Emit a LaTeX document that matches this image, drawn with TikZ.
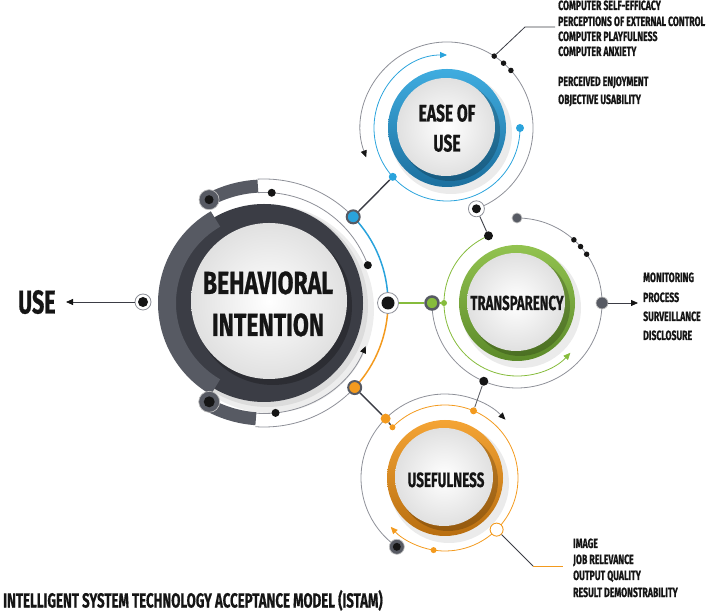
\documentclass[tikz,border=0pt]{standalone}
\usepackage{fontspec}
\newfontfamily\cond[FakeStretch=0.65,BoldFeatures={FakeBold=0.6}]{Fira Sans}
\newfontfamily\condw[FakeStretch=0.72,BoldFeatures={FakeBold=0.6}]{Fira Sans}
\usetikzlibrary{arrows.meta,calc}
\definecolor{ink}{HTML}{151515}
\definecolor{dkg}{HTML}{3B3D45}
\definecolor{midg}{HTML}{575A63}
\definecolor{lng}{HTML}{8E9098}
\definecolor{bl}{HTML}{2AA3DC}
\definecolor{bldk}{HTML}{1C6F9E}
\definecolor{gr}{HTML}{86BC3C}
\definecolor{grdk}{HTML}{5C8A2A}
\definecolor{og}{HTML}{F39A1E}
\definecolor{ogdk}{HTML}{B86E10}
\begin{document}
\begin{tikzpicture}[x=1pt,y=1pt,
  thingray/.style={draw=lng, line width=0.8pt},
  spot/.style={circle, fill=#1, inner sep=0pt, draw=none},
  tip/.style={-{Triangle[length=7pt,width=6pt]}},
  tipk/.style={-{Triangle[length=7pt,width=6pt,color=ink]}},
  lbl/.style={font=\cond\bfseries\fontsize{13.4}{15}\selectfont, anchor=base west, inner sep=0pt, text=ink},
  big/.style={font=\cond\bfseries\fontsize{#1}{#1}\selectfont, anchor=base, inner sep=0pt, text=ink},
  bigw/.style={font=\condw\bfseries\fontsize{#1}{#1}\selectfont, anchor=base, inner sep=0pt, text=ink},
]
\useasboundingbox (0,0) rectangle (708,612);

% ---------------- main circle ----------------
\coordinate (Mc) at (264,309);
\fill[black, opacity=0.07] (270,303) circle (104);
\fill[black, opacity=0.07] (267,306) circle (101);
\fill[dkg] (Mc) circle (99);
\draw[midg, line width=18pt] (Mc) ++(120:97) arc[start angle=120, end angle=240, radius=97];
\fill[black, opacity=0.25] (273,306) circle (79);
\shade[inner color=white, outer color=black!12] (269,311) circle (78);

\draw[thingray] (Mc) ++(93:124) arc[start angle=93, end angle=44, radius=124];
\draw[thingray] (Mc) ++(266:124) arc[start angle=266, end angle=317, radius=124];
\draw[thingray] (Mc) ++(93:110.5) arc[start angle=93, end angle=20, radius=110.5];
\draw[thingray, tipk] (Mc) ++(266:110.5) arc[start angle=266, end angle=337, radius=110.5];
\draw[midg, line width=13pt] (Mc) ++(118:117) arc[start angle=118, end angle=93, radius=117];
\draw[midg, line width=13pt] (Mc) ++(241:116) arc[start angle=241, end angle=266, radius=116];
\draw[bl, line width=1.5pt] (Mc) ++(44:124) arc[start angle=44, end angle=0, radius=124];
\draw[og, line width=1.5pt] (Mc) ++(-43:124) arc[start angle=-43, end angle=0, radius=124];

\node[spot=midg, minimum size=20pt, draw=black!25, line width=0.7pt] (Mtop) at ($(Mc)+(118:117)$) {};
\node[spot=ink, minimum size=9pt] (Mtopc) at (Mtop) {};
\node[spot=midg, minimum size=21pt, draw=black!25, line width=0.7pt] (Mbot) at ($(Mc)+(241:113)$) {};
\node[spot=ink, minimum size=11pt] (Mbotc) at (Mbot) {};
\node[spot=ink, minimum size=8pt] (Md1) at ($(Mc)+(86:110.5)$) {};
\node[spot=ink, minimum size=8pt] (Md2) at ($(Mc)+(20:110.5)$) {};
\node[spot=ink, minimum size=8pt] (Md3) at ($(Mc)+(276:110.5)$) {};
\node[circle, draw=lng, fill=white, line width=0.8pt, minimum size=21pt, inner sep=0pt] (Mr) at ($(Mc)+(0:124)$) {};
\node[spot=ink, minimum size=13pt] (Mrc) at (Mr) {};
\node[spot=bl, draw=midg, line width=2pt, minimum size=13pt] (Mb) at ($(Mc)+(44:124)$) {};
\node[spot=og, draw=midg, line width=2pt, minimum size=13pt] (Mo) at ($(Mc)+(-43:124)$) {};

\node[bigw=32] (Mt1) at (268,318) {BEHAVIORAL};
\node[bigw=32] (Mt2) at (268,276) {INTENTION};

% ---------------- USE ----------------
\node[circle, draw=lng, fill=white, line width=0.8pt, minimum size=16pt, inner sep=0pt] (Sr) at (143,310) {};
\node[spot=ink, minimum size=10pt] (Sc) at (Sr) {};
\coordinate (Stip) at (66,310);
\draw[dkg, line width=0.8pt, tipk] (Sr) -- (Stip);
\node[big=33, anchor=base west] (Suse) at (18,298.5) {USE};

% ---------------- EASE OF USE ----------------
\coordinate (Ec) at (447,484);
\draw[thingray, tipk] (Ec) ++(-70:86) arc[start angle=-70, end angle=200, radius=86];
\draw[bl, line width=0.8pt, tip] (Ec) ++(0:73) arc[start angle=0, end angle=-270, radius=73];
\fill[black, opacity=0.08] (451,479) circle (61);
\shade[shading angle=45, top color=bl!90!white, middle color=bl, bottom color=bldk] (Ec) circle (59);
\fill[black, opacity=0.2] (450,481) circle (50);
\shade[inner color=white, outer color=black!12] (446,485) circle (49);
\node[big=24] (Et1) at (447,490.5) {EASE OF};
\node[big=24] (Et2) at (447,460.5) {USE};
\node[spot=ink, minimum size=5.5pt] (Ed1) at ($(Ec)+(56.7:86)$) {};
\node[spot=ink, minimum size=5.5pt] (Ed2) at ($(Ec)+(48.9:86)$) {};
\node[spot=ink, minimum size=5.5pt] (Ed3) at ($(Ec)+(42:86)$) {};
\node[spot=bl, minimum size=8pt] (Eb0) at ($(Ec)+(0:73)$) {};
\node[spot=bl, minimum size=8pt] (Eb1) at ($(Ec)+(222:73)$) {};
\node[circle, draw=lng, fill=white, line width=0.8pt, minimum size=16pt, inner sep=0pt] (Er) at ($(Ec)+(-70:86)$) {};
\node[spot=ink, minimum size=9pt] (Erc) at (Er) {};
\coordinate (Ek) at (525,585);
\coordinate (Ee) at (555,585);
\draw[dkg, line width=0.8pt] (Ed1) -- (Ek) -- (Ee);
\draw[dkg, line width=1.4pt] (Mb) -- (Eb1);
\node[lbl] (El1) at (558,602) {COMPUTER SELF-EFFICACY};
\node[lbl] (El2) at (558,586) {PERCEPTIONS OF EXTERNAL CONTROL};
\node[lbl] (El3) at (558,571) {COMPUTER PLAYFULNESS};
\node[lbl] (El4) at (558,556) {COMPUTER ANXIETY};
\node[lbl] (El5) at (558,526) {PERCEIVED ENJOYMENT};
\node[lbl] (El6) at (558,508) {OBJECTIVE USABILITY};

% ---------------- TRANSPARENCY ----------------
\coordinate (Tc) at (517,309);
\draw[thingray] (Tc) ++(180:85) arc[start angle=180, end angle=450, radius=85];
\draw[gr, line width=0.8pt, tip] (Tc) ++(113:73) arc[start angle=113, end angle=317, radius=73];
\fill[black, opacity=0.08] (521,304) circle (60);
\shade[shading angle=45, top color=gr!90!white, middle color=gr, bottom color=grdk] (Tc) circle (58);
\fill[black, opacity=0.2] (520,306) circle (50);
\shade[inner color=white, outer color=black!12] (516,310) circle (49);
\node[big=20.3] (Tt1) at (517,302) {TRANSPARENCY};
\node[spot=gr, draw=midg, line width=2.5pt, minimum size=13pt] (Tl) at ($(Tc)+(180:85)$) {};
\node[spot=ink, minimum size=9pt] (Tb) at ($(Tc)+(247:85)$) {};
\node[spot=midg, draw=black!25, line width=0.7pt, minimum size=12pt] (Tr) at ($(Tc)+(0:85)$) {};
\node[spot=midg, draw=black!25, line width=0.7pt, minimum size=10pt] (Tt) at ($(Tc)+(90:85)$) {};
\node[spot=ink, minimum size=5.5pt] (Td1) at ($(Tc)+(48:85)$) {};
\node[spot=ink, minimum size=5.5pt] (Td2) at ($(Tc)+(41.6:85)$) {};
\node[spot=ink, minimum size=5.5pt] (Td3) at ($(Tc)+(35:85)$) {};
\node[spot=gr, minimum size=6pt] (Tg) at ($(Tc)+(180:73)$) {};
\node[spot=ink, minimum size=9pt] (Tk) at ($(Tc)+(113:73)$) {};
\draw[gr, line width=1.5pt] (Mr) -- (Tl);
\draw[gr, line width=1.5pt] (Tl) -- (Tg);
\draw[dkg, line width=0.9pt] (Er) -- (Tk);
\coordinate (Ttip) at (638,309);
\draw[dkg, line width=0.8pt, tipk] (Tr) -- (Ttip);
\node[lbl] (Tl1) at (643,330) {MONITORING};
\node[lbl] (Tl2) at (643,310) {PROCESS};
\node[lbl] (Tl3) at (643,291) {SURVEILLANCE};
\node[lbl] (Tl4) at (643,272) {DISCLOSURE};

% ---------------- USEFULNESS ----------------
\coordinate (Uc) at (445,134);
\draw[thingray, tipk] (Uc) ++(235:84) arc[start angle=235, end angle=44, radius=84];
\draw[og, line width=0.8pt, tip] (Uc) ++(136:73) arc[start angle=136, end angle=-138, radius=73];
\fill[black, opacity=0.08] (449,129) circle (60);
\shade[shading angle=45, top color=og!90!white, middle color=og, bottom color=ogdk] (Uc) circle (58);
\fill[black, opacity=0.2] (448,131) circle (50);
\shade[inner color=white, outer color=black!12] (444,135) circle (49);
\node[big=20.7] (Ut1) at (446,125) {USEFULNESS};
\node[spot=midg, draw=black!25, line width=0.7pt, minimum size=15pt] (Ud) at ($(Uc)+(235:84)$) {};
\node[spot=ink, minimum size=8pt] (Udc) at (Ud) {};
\node[spot=og, minimum size=10pt] (Ub) at ($(Uc)+(135:84)$) {};
\node[spot=og, minimum size=6pt] (Us) at ($(Uc)+(136:73)$) {};
\node[spot=og, minimum size=7pt] (Ut) at ($(Uc)+(67:73)$) {};
\node[spot=og, minimum size=6pt] (Ubt) at ($(Uc)+(-99:73)$) {};
\node[circle, draw=og, fill=white, line width=0.9pt, minimum size=13pt, inner sep=0pt] (Uh) at ($(Uc)+(-45:73)$) {};
\draw[dkg, line width=1.4pt] (Mo) -- (Ub);
\draw[dkg, line width=1.4pt] (Ub) -- (Us);
\draw[dkg!80, line width=0.9pt] (Tb) -- (Ut);
\coordinate (Uk) at (533,46);
\coordinate (Ue) at (563,46);
\draw[dkg, line width=0.8pt] (Uh) -- (Uk);
\draw[og, line width=0.8pt] (Uk) -- (Ue);
\node[lbl] (Ul1) at (573,64) {IMAGE};
\node[lbl] (Ul2) at (573,48) {JOB RELEVANCE};
\node[lbl] (Ul3) at (573,32) {OUTPUT QUALITY};
\node[lbl] (Ul4) at (573,15) {RESULT DEMONSTRABILITY};

% ---------------- title ----------------
\node[big=20.4, anchor=base west] (Title) at (3,4.5) {INTELLIGENT SYSTEM TECHNOLOGY ACCEPTANCE MODEL (ISTAM)};
\end{tikzpicture}
\end{document}
